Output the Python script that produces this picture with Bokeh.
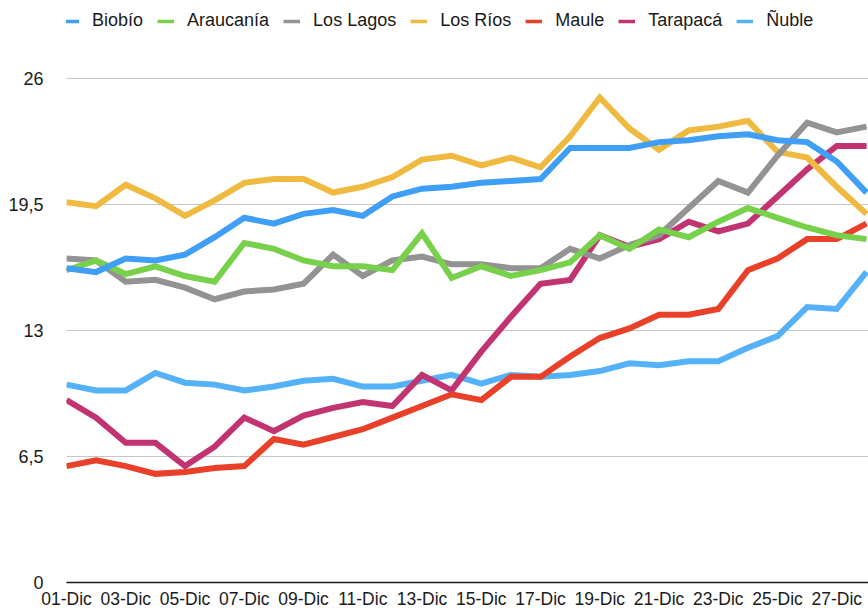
from bokeh.plotting import figure
from bokeh.models import (FixedTicker, Range1d, Legend, LegendItem,
                          CustomJSTickFormatter, ColumnDataSource)
from bokeh.embed import file_html
from bokeh.resources import INLINE

days = [1, 2, 3, 4, 5, 6, 7, 8, 9, 10, 11, 12, 13, 14, 15, 16, 17, 18, 19, 20,
        21, 22, 23, 24, 25, 26, 27, 28]
day_labels = ["01-Dic", "02-Dic", "03-Dic", "04-Dic", "05-Dic", "06-Dic", "07-Dic",
              "08-Dic", "09-Dic", "10-Dic", "11-Dic", "12-Dic", "13-Dic", "14-Dic",
              "15-Dic", "16-Dic", "17-Dic", "18-Dic", "19-Dic", "20-Dic", "21-Dic",
              "22-Dic", "23-Dic", "24-Dic", "25-Dic", "26-Dic", "27-Dic", "28-Dic"]
x_tick_days = [1, 3, 5, 7, 9, 11, 13, 15, 17, 19, 21, 23, 25, 27]
y_ticks = [0, 6.5, 13, 19.5, 26]

biobio = [16.2, 16.0, 16.7, 16.6, 16.9, 17.8, 18.8, 18.5, 19.0, 19.2, 18.9, 19.9, 20.3, 20.4,
          20.6, 20.7, 20.8, 22.4, 22.4, 22.4, 22.7, 22.8, 23.0, 23.1, 22.8, 22.7, 21.7, 20.1]
araucania = [16.1, 16.6, 15.9, 16.3, 15.8, 15.5, 17.5, 17.2, 16.6, 16.3, 16.3, 16.1, 18.0, 15.7,
             16.3, 15.8, 16.1, 16.5, 17.9, 17.2, 18.2, 17.8, 18.6, 19.3, 18.8, 18.3, 17.9, 17.7]
los_lagos = [16.7, 16.6, 15.5, 15.6, 15.2, 14.6, 15.0, 15.1, 15.4, 16.9, 15.8, 16.6, 16.8, 16.4,
             16.4, 16.2, 16.2, 17.2, 16.7, 17.4, 17.9, 19.3, 20.7, 20.1, 22.0, 23.7, 23.2, 23.5]
los_rios = [19.6, 19.4, 20.5, 19.8, 18.9, 19.7, 20.6, 20.8, 20.8, 20.1, 20.4, 20.9, 21.8, 22.0,
            21.5, 21.9, 21.4, 23.0, 25.0, 23.4, 22.3, 23.3, 23.5, 23.8, 22.2, 21.9, 20.4, 19.0]
maule = [6.0, 6.3, 6.0, 5.6, 5.7, 5.9, 6.0, 7.4, 7.1, 7.5, 7.9, 8.5, 9.1, 9.7,
         9.4, 10.6, 10.6, 11.65, 12.6, 13.1, 13.8, 13.8, 14.1, 16.1, 16.7, 17.7, 17.7, 18.5]
tarapaca = [9.4, 8.5, 7.2, 7.2, 6.0, 7.0, 8.5, 7.8, 8.6, 9.0, 9.3, 9.1, 10.7, 9.9,
            11.9, 13.7, 15.4, 15.6, 17.9, 17.3, 17.7, 18.6, 18.1, 18.5, 19.9, 21.3, 22.5, 22.5]
nuble = [10.2, 9.9, 9.9, 10.8, 10.3, 10.2, 9.9, 10.1, 10.4, 10.5, 10.1, 10.1, 10.4, 10.7,
         10.25, 10.7, 10.6, 10.7, 10.9, 11.3, 11.2, 11.4, 11.4, 12.1, 12.7, 14.2, 14.1, 16.0]

series_names = ["Biobío", "Araucanía", "Los Lagos", "Los Ríos", "Maule", "Tarapacá", "Ñuble"]
series_values = [biobio, araucania, los_lagos, los_rios, maule, tarapaca, nuble]
series_colors = ["#3f9ef5", "#78d14b", "#939393", "#f0ba41", "#e9402a", "#c13471", "#56b2f8"]

FONT = "Liberation Sans"
TXT = "#1a1a1a"
FRAME_H = 582

p = figure(frame_width=802, frame_height=FRAME_H, output_backend="svg", toolbar_location=None,
           x_range=Range1d(1, 28.07), y_range=Range1d(0, FRAME_H / 19.4),
           min_border_left=66, min_border_right=0, min_border_top=0,
           min_border_bottom=0)
p.outline_line_color = None
p.background_fill_color = "white"
p.border_fill_color = "white"

# legend (thin) renderers first, then thick lines in reverse order on top
thin = {}
for name, vals, col in zip(series_names, series_values, series_colors):
    src = ColumnDataSource(dict(x=days, y=vals))
    thin[name] = p.line("x", "y", source=src, line_color=col, line_width=3.5)
for name, vals, col in reversed(list(zip(series_names, series_values, series_colors))):
    src = ColumnDataSource(dict(x=days, y=vals))
    p.line("x", "y", source=src, line_color=col, line_width=6, line_join="miter")

items = [LegendItem(label=n, renderers=[thin[n]]) for n in series_names]
legend = Legend(items=items, orientation="horizontal", location=(-4, FRAME_H - 31),
                glyph_width=17, glyph_height=20, label_height=20, label_standoff=13,
                spacing=14, padding=0, margin=0, border_line_color=None,
                background_fill_alpha=0, label_text_font=FONT,
                label_text_font_size="18px", label_text_color=TXT)
p.add_layout(legend)

# x axis
p.xaxis.ticker = FixedTicker(ticks=x_tick_days)
p.xaxis.major_label_overrides = {d: day_labels[d - 1] for d in x_tick_days}
p.xaxis.axis_line_color = TXT
p.xaxis.axis_line_width = 1.5
p.xaxis.major_tick_line_color = None
p.xaxis.minor_tick_line_color = None
p.xaxis.major_tick_out = 0
p.xaxis.major_tick_in = 0
p.xaxis.minor_tick_out = 0
p.xaxis.major_label_standoff = 6
p.xaxis.major_label_text_font = FONT
p.xaxis.major_label_text_font_size = "17.5px"
p.xaxis.major_label_text_color = TXT

# y axis
p.yaxis.ticker = FixedTicker(ticks=y_ticks)
p.yaxis.formatter = CustomJSTickFormatter(code="return tick.toString().replace('.', ',');")
p.yaxis.axis_line_color = None
p.yaxis.major_tick_line_color = None
p.yaxis.minor_tick_line_color = None
p.yaxis.major_tick_out = 0
p.yaxis.major_tick_in = 0
p.yaxis.minor_tick_out = 0
p.yaxis.major_label_standoff = 23
p.yaxis.major_label_text_font = FONT
p.yaxis.major_label_text_font_size = "18px"
p.yaxis.major_label_text_color = TXT

p.xgrid.visible = False
p.ygrid.ticker = FixedTicker(ticks=y_ticks)
p.ygrid.grid_line_color = "#c6c6c6"
p.ygrid.grid_line_width = 1

open("out.html", "w").write(file_html(p, INLINE))
